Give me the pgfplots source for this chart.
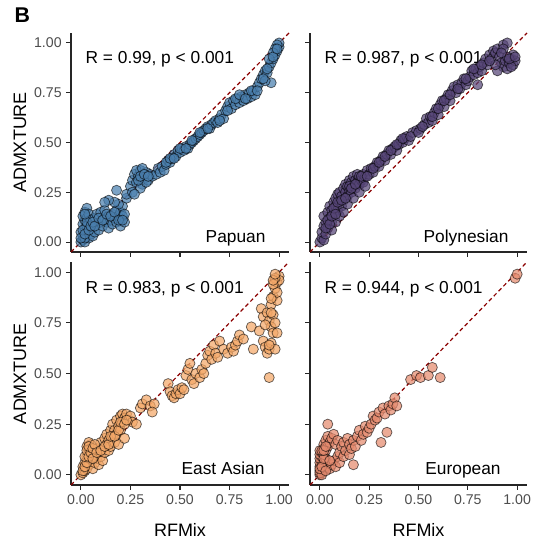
\documentclass[border=0pt]{standalone}
\usepackage{fontspec}
\setmainfont{Liberation Sans}
\usepackage{pgfplots}
\pgfplotsset{compat=1.18}

\definecolor{papuan}{HTML}{4A7FAE}
\definecolor{polyn}{HTML}{564577}
\definecolor{easia}{HTML}{F4A868}
\definecolor{europ}{HTML}{E58A6E}
\definecolor{dred}{HTML}{8B0000}
\definecolor{ticktext}{HTML}{4D4D4D}

\pgfplotsset{
  panel/.style={
    scale only axis, width=163.5pt, height=164.25pt,
    xmin=-0.05, xmax=1.05, ymin=-0.05, ymax=1.05,
    axis x line=bottom, axis y line=left,
    axis line style={-, line width=1pt, black!85},
    tick align=outside, major tick length=3.5pt,
    tick style={line width=0.8pt, black!85},
    xtick={0,0.25,0.5,0.75,1}, ytick={0,0.25,0.5,0.75,1},
    xticklabels={0.00,0.25,0.50,0.75,1.00},
    yticklabels={0.00,0.25,0.50,0.75,1.00},
    ticklabel style={font=\fontsize{10.6}{12}\selectfont, text=ticktext},
    xlabel style={at={(axis description cs:0.5,-0.2)}, anchor=center, font=\fontsize{13.5}{15}\selectfont},
    ylabel style={at={(axis description cs:-0.234,0.5)}, anchor=center, font=\fontsize{13.5}{15}\selectfont},
    clip=false,
  },
  pts/.style={only marks, mark=*, mark size=3.8pt,
    mark options={fill=#1, fill opacity=0.72, draw=black, draw opacity=0.6, line width=0.55pt}},
  diag/.style={draw=dred, line width=0.9pt, dash pattern=on 3pt off 2.2pt},
}

\newcommand{\rlab}[1]{\node[anchor=base west, font=\fontsize{13}{15}\selectfont] at (axis cs:0.0,0.895) {#1};}
\newcommand{\glab}[2]{\node[anchor=base east, font=\fontsize{13}{15}\selectfont] at (axis cs:#1,0.0) {#2};}

\begin{document}
\begin{tikzpicture}
\useasboundingbox (0,0) rectangle (399.75pt,405pt);
\node[anchor=base west, font=\bfseries\fontsize{16}{18}\selectfont] at (7.5pt,387.75pt) {B};

% Papuan
\begin{axis}[panel, at={(53.25pt,216pt)}, anchor=south west,
  xticklabels={}, ylabel={ADMXTURE}]
\addplot[pts=papuan] table {
x y
0.00 0.00
0.01 0.01
0.02 0.00
0.01 0.03
0.00 0.05
0.02 0.07
0.01 0.09
0.02 0.11
0.01 0.13
0.02 0.15
0.03 0.17
0.03 0.12
0.04 0.09
0.03 0.05
0.04 0.02
0.05 0.04
0.02 0.02
0.00 0.02
0.03 0.08
0.04 0.14
0.05 0.11
0.06 0.07
0.06 0.03
0.07 0.05
0.08 0.09
0.07 0.12
0.08 0.14
0.09 0.06
0.10 0.10
0.10 0.15
0.11 0.08
0.12 0.12
0.12 0.16
0.13 0.10
0.14 0.13
0.14 0.07
0.15 0.11
0.16 0.14
0.16 0.09
0.17 0.12
0.18 0.16
0.18 0.10
0.19 0.13
0.20 0.11
0.20 0.15
0.21 0.13
0.21 0.18
0.19 0.19
0.17 0.20
0.14 0.21
0.12 0.20
0.20 0.08
0.22 0.10
0.22 0.14
0.18 0.26
0.23 0.22
0.23 0.24
0.25 0.28
0.26 0.31
0.27 0.34
0.28 0.30
0.29 0.33
0.30 0.36
0.31 0.29
0.32 0.32
0.33 0.35
0.34 0.31
0.35 0.34
0.28 0.36
0.30 0.27
0.33 0.30
0.36 0.33
0.31 0.37
0.26 0.25
0.27 0.24
0.38 0.34
0.39 0.37
0.40 0.35
0.41 0.38
0.42 0.36
0.43 0.39
0.44 0.41
0.45 0.40
0.46 0.42
0.47 0.44
0.48 0.43
0.49 0.46
0.50 0.45
0.51 0.47
0.52 0.46
0.53 0.48
0.54 0.47
0.55 0.49
0.56 0.50
0.57 0.51
0.58 0.52
0.59 0.53
0.60 0.54
0.61 0.55
0.62 0.56
0.63 0.57
0.64 0.58
0.65 0.57
0.66 0.59
0.67 0.60
0.68 0.61
0.69 0.60
0.70 0.62
0.71 0.64
0.72 0.62
0.73 0.66
0.74 0.68
0.75 0.70
0.76 0.67
0.77 0.71
0.78 0.69
0.79 0.72
0.80 0.70
0.81 0.73
0.82 0.71
0.83 0.74
0.84 0.72
0.85 0.75
0.86 0.73
0.87 0.76
0.88 0.74
0.89 0.78
0.90 0.80
0.91 0.82
0.92 0.84
0.93 0.86
0.94 0.85
0.95 0.88
0.96 0.90
0.96 0.80
0.93 0.81
0.97 0.92
0.98 0.94
0.99 0.96
1.00 0.98
1.00 1.00
0.99 0.99
0.98 0.97
0.97 0.95
0.95 0.92
0.01 0.06
0.02 0.04
0.03 0.10
0.02 0.14
0.04 0.06
0.05 0.08
0.06 0.10
0.07 0.08
0.09 0.12
0.11 0.11
0.13 0.14
0.15 0.13
0.17 0.15
0.19 0.11
0.21 0.11
0.29 0.31
0.30 0.33
0.32 0.34
0.34 0.33
0.43 0.40
0.45 0.42
0.47 0.42
0.50 0.47
0.53 0.47
0.56 0.51
0.60 0.55
0.64 0.57
0.70 0.61
0.74 0.66
0.78 0.72
0.80 0.74
0.83 0.72
0.86 0.76
0.89 0.76
0.92 0.82
0.94 0.87
0.97 0.93
0.99 0.97
};
\addplot[diag] coordinates {(-0.05,-0.05) (1.05,1.05)};
\rlab{R = 0.99, p < 0.001}
\glab{0.955}{Papuan}
\end{axis}

% Polynesian
\begin{axis}[panel, at={(232.5pt,216pt)}, anchor=south west, width=162.75pt,
  xticklabels={}, yticklabels={}]
\addplot[pts=polyn] table {
x y
0.00 0.00
0.01 0.02
0.02 0.01
0.01 0.05
0.02 0.08
0.03 0.04
0.03 0.10
0.02 0.13
0.04 0.07
0.04 0.15
0.05 0.12
0.05 0.18
0.06 0.10
0.06 0.16
0.07 0.20
0.07 0.14
0.08 0.18
0.08 0.22
0.09 0.16
0.09 0.24
0.10 0.20
0.10 0.25
0.11 0.18
0.11 0.23
0.12 0.27
0.12 0.21
0.13 0.25
0.13 0.29
0.14 0.23
0.14 0.28
0.15 0.26
0.15 0.31
0.16 0.25
0.16 0.30
0.17 0.28
0.17 0.33
0.18 0.27
0.18 0.31
0.19 0.30
0.19 0.34
0.20 0.29
0.20 0.33
0.21 0.31
0.22 0.34
0.22 0.30
0.23 0.33
0.24 0.36
0.25 0.34
0.26 0.37
0.27 0.35
0.28 0.38
0.29 0.40
0.30 0.38
0.31 0.41
0.32 0.43
0.33 0.41
0.34 0.44
0.35 0.46
0.36 0.44
0.37 0.47
0.38 0.48
0.39 0.46
0.40 0.49
0.41 0.51
0.42 0.50
0.43 0.52
0.44 0.53
0.45 0.51
0.47 0.55
0.49 0.56
0.51 0.57
0.53 0.59
0.54 0.62
0.55 0.60
0.56 0.63
0.57 0.61
0.58 0.65
0.59 0.67
0.60 0.64
0.61 0.69
0.62 0.71
0.63 0.68
0.64 0.72
0.65 0.74
0.66 0.71
0.67 0.76
0.68 0.78
0.69 0.75
0.70 0.79
0.71 0.77
0.72 0.80
0.73 0.82
0.74 0.79
0.75 0.81
0.76 0.83
0.77 0.86
0.78 0.84
0.79 0.87
0.80 0.85
0.81 0.88
0.82 0.86
0.80 0.79
0.83 0.90
0.84 0.92
0.85 0.89
0.86 0.94
0.87 0.92
0.88 0.96
0.89 0.95
0.90 0.97
0.93 0.99
0.95 1.00
0.93 0.97
0.91 0.93
0.92 0.90
0.93 0.88
0.94 0.91
0.95 0.87
0.96 0.90
0.97 0.92
0.98 0.89
0.99 0.91
0.98 0.94
0.95 0.93
0.97 0.88
0.90 0.86
0.89 0.89
0.06 0.06
0.08 0.10
0.10 0.13
0.12 0.15
0.14 0.19
0.17 0.22
0.20 0.25
0.23 0.28
0.03 0.07
0.04 0.11
0.05 0.09
0.06 0.13
0.07 0.17
0.08 0.14
0.09 0.20
0.11 0.21
0.13 0.22
0.15 0.28
0.16 0.27
0.18 0.29
0.21 0.33
0.24 0.33
0.27 0.37
0.30 0.40
0.33 0.43
0.36 0.46
0.39 0.49
0.42 0.52
0.46 0.53
0.50 0.55
0.52 0.58
0.57 0.63
0.60 0.67
0.63 0.71
0.66 0.74
0.70 0.77
0.74 0.82
0.78 0.87
0.82 0.89
0.86 0.91
0.92 0.95
0.96 0.92
0.99 0.93
};
\addplot[diag] coordinates {(-0.05,-0.05) (1.05,1.05)};
\rlab{R = 0.987, p < 0.001}
\glab{0.98}{Polynesian}
\end{axis}

% East Asian
\begin{axis}[panel, at={(53.25pt,41.25pt)}, anchor=south west, height=167.25pt,
  xlabel={RFMix}, ylabel={ADMXTURE}]
\addplot[pts=easia] table {
x y
0.00 0.00
0.01 0.01
0.02 0.02
0.01 0.04
0.02 0.06
0.03 0.03
0.03 0.09
0.04 0.12
0.04 0.05
0.05 0.15
0.05 0.08
0.06 0.11
0.06 0.03
0.07 0.06
0.03 0.14
0.04 0.16
0.05 0.13
0.07 0.10
0.08 0.08
0.08 0.13
0.09 0.05
0.09 0.11
0.10 0.09
0.10 0.16
0.11 0.13
0.11 0.07
0.12 0.18
0.12 0.11
0.13 0.15
0.13 0.20
0.14 0.12
0.14 0.17
0.15 0.22
0.15 0.14
0.16 0.19
0.16 0.25
0.17 0.16
0.17 0.22
0.18 0.27
0.18 0.20
0.19 0.24
0.19 0.15
0.20 0.29
0.20 0.22
0.21 0.26
0.21 0.30
0.22 0.28
0.22 0.18
0.23 0.30
0.24 0.27
0.25 0.29
0.26 0.26
0.28 0.25
0.30 0.33
0.31 0.35
0.33 0.37
0.35 0.34
0.37 0.35
0.36 0.31
0.44 0.45
0.45 0.41
0.46 0.39
0.47 0.38
0.48 0.40
0.49 0.42
0.50 0.40
0.51 0.43
0.52 0.42
0.53 0.49
0.54 0.52
0.55 0.55
0.56 0.47
0.57 0.45
0.58 0.50
0.60 0.48
0.61 0.52
0.62 0.50
0.63 0.55
0.64 0.59
0.65 0.61
0.66 0.57
0.67 0.64
0.68 0.60
0.69 0.58
0.70 0.66
0.72 0.62
0.74 0.60
0.76 0.63
0.77 0.61
0.78 0.64
0.79 0.66
0.80 0.69
0.82 0.67
0.86 0.73
0.87 0.62
0.90 0.71
0.91 0.82
0.92 0.78
0.92 0.66
0.93 0.63
0.94 0.60
0.94 0.80
0.95 0.76
0.95 0.62
0.95 0.48
0.96 0.73
0.96 0.84
0.96 0.65
0.97 0.70
0.97 0.88
0.97 0.79
0.98 0.92
0.98 0.75
0.98 0.62
0.99 0.95
0.99 0.86
0.99 0.70
1.00 0.98
1.00 0.96
0.99 0.90
0.98 0.97
0.97 0.94
0.96 0.87
0.93 0.74
0.01 0.02
0.02 0.04
0.03 0.06
0.02 0.09
0.03 0.12
0.04 0.09
0.05 0.11
0.04 0.14
0.06 0.08
0.06 0.13
0.07 0.15
0.08 0.11
0.10 0.12
0.12 0.14
0.14 0.15
0.15 0.19
0.17 0.19
0.19 0.22
0.20 0.26
0.22 0.25
0.23 0.27
0.97 0.96
0.98 0.99
0.96 0.80
0.95 0.64
};
\addplot[diag] coordinates {(-0.05,-0.05) (1.05,1.05)};
\rlab{R = 0.983, p < 0.001}
\glab{0.95}{East Asian}
\end{axis}

% European
\begin{axis}[panel, at={(232.5pt,41.25pt)}, anchor=south west, width=162.75pt, height=167.25pt,
  xlabel={RFMix}, yticklabels={}]
\addplot[pts=europ] table {
x y
0.00 0.00
0.01 0.01
0.00 0.02
0.01 0.03
0.00 0.04
0.01 0.05
0.00 0.06
0.01 0.07
0.00 0.08
0.01 0.09
0.00 0.10
0.01 0.11
0.00 0.12
0.02 0.13
0.02 0.02
0.03 0.04
0.02 0.06
0.03 0.08
0.02 0.10
0.03 0.12
0.02 0.15
0.03 0.17
0.04 0.19
0.04 0.25
0.04 0.14
0.05 0.16
0.05 0.03
0.06 0.18
0.06 0.05
0.07 0.20
0.07 0.07
0.08 0.15
0.08 0.04
0.09 0.09
0.09 0.17
0.10 0.11
0.10 0.06
0.11 0.14
0.12 0.16
0.12 0.09
0.13 0.12
0.14 0.18
0.15 0.15
0.15 0.10
0.16 0.13
0.17 0.17
0.18 0.14
0.17 0.05
0.19 0.19
0.20 0.22
0.21 0.17
0.22 0.20
0.23 0.24
0.24 0.21
0.25 0.23
0.26 0.25
0.27 0.29
0.28 0.27
0.29 0.28
0.30 0.31
0.31 0.16
0.32 0.33
0.33 0.30
0.34 0.21
0.35 0.34
0.36 0.32
0.37 0.35
0.38 0.38
0.39 0.34
0.46 0.47
0.49 0.49
0.51 0.48
0.55 0.49
0.57 0.53
0.61 0.48
0.99 0.97
1.00 0.99
0.00 0.01
0.01 0.00
0.00 0.03
0.01 0.04
0.02 0.08
0.01 0.12
0.02 0.12
0.03 0.14
0.05 0.07
0.03 0.02
};
\addplot[diag] coordinates {(-0.05,-0.05) (1.05,1.05)};
\rlab{R = 0.944, p < 0.001}
\glab{0.94}{European}
\end{axis}
\end{tikzpicture}
\end{document}
